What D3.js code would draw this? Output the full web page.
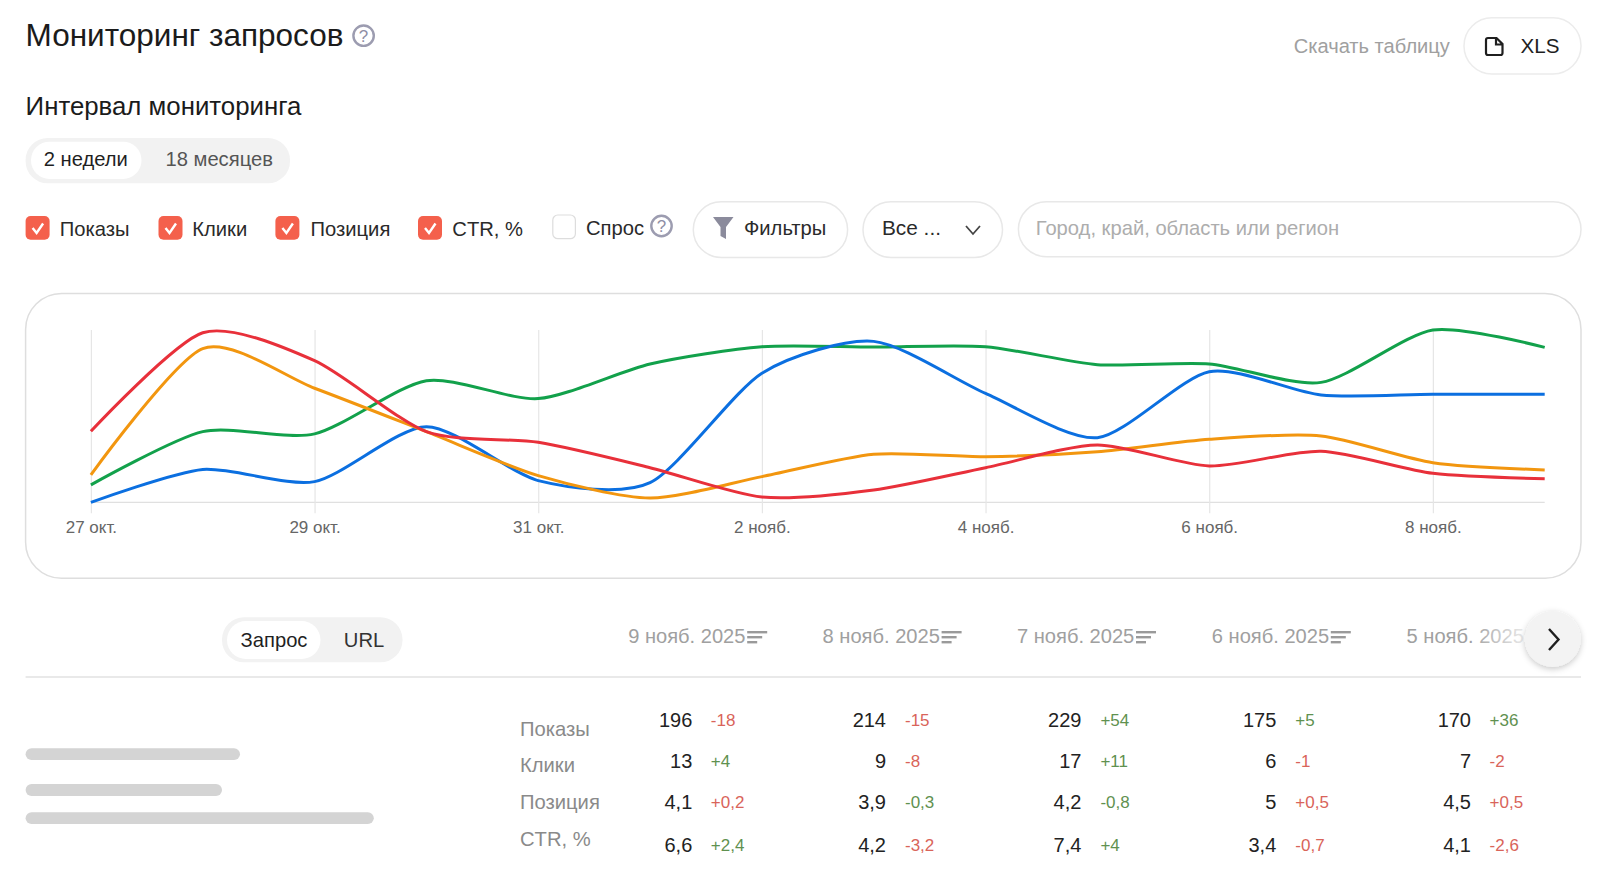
<!DOCTYPE html>
<html lang="ru"><head><meta charset="utf-8">
<script src="https://cdn.jsdelivr.net/npm/d3@7"></script>
<style>html,body{margin:0;background:#fff}svg{display:block}text{font-family:"Liberation Sans",Arial,sans-serif}</style>
</head><body><svg id="c" width="1608" height="882"></svg>
<script>
// ---- data ----
const days = ['27 окт.','28 окт.','29 окт.','30 окт.','31 окт.','1 нояб.','2 нояб.','3 нояб.','4 нояб.','5 нояб.','6 нояб.','7 нояб.','8 нояб.','9 нояб.'];
const tickDays = ['27 окт.','29 окт.','31 окт.','2 нояб.','4 нояб.','6 нояб.','8 нояб.'];
const red    = [41.2,98.4,82.2,41.0,34.8,20.1,3.1,7.2,20.1,33.3,21.1,29.6,16.8,13.7];
const orange = [15.9,89.2,66.2,41.0,15.5,2.5,14.9,27.9,26.5,29.4,36.6,38.5,23.0,18.8];
const green  = [10.1,41.0,39.7,70.6,60.2,80.3,90.3,90.1,90.3,79.9,80.3,69.6,100.0,89.9];
const blue   = [0,19.1,12.0,43.9,12.6,11.4,74.9,93.4,63.2,37.5,75.8,62.3,62.7,62.7];
const tableDates = ['9 нояб. 2025','8 нояб. 2025','7 нояб. 2025','6 нояб. 2025','5 нояб. 2025'];
const rowLabels = ['Показы','Клики','Позиция','CTR, %'];
const rowValues = [
  ['196','214','229','175','170'],
  ['13','9','17','6','7'],
  ['4,1','3,9','4,2','5','4,5'],
  ['6,6','4,2','7,4','3,4','4,1']];
const rowDeltas = [
  ['-18','-15','+54','+5','+36'],
  ['+4','-8','+11','-1','-2'],
  ['+0,2','-0,3','-0,8','+0,5','+0,5'],
  ['+2,4','-3,2','+4','-0,7','-2,6']];
const rowDeltaGood = [
  [0,0,1,1,1],
  [1,0,1,0,0],
  [0,1,1,0,0],
  [1,0,1,0,0]];
const checks = [
  {label:'Показы',box:25.6,tx:59.8,on:true},
  {label:'Клики',box:158.5,tx:192.3,on:true},
  {label:'Позиция',box:275.4,tx:310.5,on:true},
  {label:'CTR, %',box:418,tx:452.3,on:true},
  {label:'Спрос',box:552.8,tx:586,on:false}];

// ---- helpers ----
const svg = d3.select('#c');
function T(s,x,y,size,fill,anchor){return svg.append('text').text(s).attr('x',x).attr('y',y).attr('font-size',size).attr('fill',fill).attr('text-anchor',anchor||'start');}
function R(x0,y0,x1,y1,r,fill,stroke,sw){return svg.append('rect').attr('x',x0).attr('y',y0).attr('width',x1-x0).attr('height',y1-y0).attr('rx',r).attr('fill',fill||'none').attr('stroke',stroke||'none').attr('stroke-width',sw||0);}
function help(cx,cy){
  svg.append('circle').attr('cx',cx).attr('cy',cy).attr('r',10.2).attr('fill','none').attr('stroke','#9c9cb0').attr('stroke-width',2.4);
  T('?',cx,cy+6,17,'#8f8fa5','middle');
}
const defs = svg.append('defs');
const f = defs.append('filter').attr('id','sh').attr('x','-40%').attr('y','-40%').attr('width','180%').attr('height','180%');
f.append('feDropShadow').attr('dx',0).attr('dy',2).attr('stdDeviation',3).attr('flood-color','#000').attr('flood-opacity',.22);
const g = defs.append('linearGradient').attr('id','fade');
g.append('stop').attr('offset',0).attr('stop-color','#fff').attr('stop-opacity',0);
g.append('stop').attr('offset',1).attr('stop-color','#fff').attr('stop-opacity',1);

// ---- header ----
T('Мониторинг запросов',25.6,46,31.5,'#1b1b1b');
help(363.6,35.7);
T('Скачать таблицу',1293.7,52.7,20.1,'#a0a0a0');
R(1464,17.8,1581,74,28,'#fff','#ececec',1.5);
svg.append('path').attr('d','M1488 38h8.5l6 6v9a2 2 0 0 1-2 2h-12.5a2 2 0 0 1-2-2v-13a2 2 0 0 1 2-2zM1496 38v6.5h6.5').attr('fill','none').attr('stroke','#1f1f1f').attr('stroke-width',2.2);
T('XLS',1520.5,52.7,20.6,'#1f1f1f');

T('Интервал мониторинга',25.6,115,25.8,'#1b1b1b');
R(25.6,138,290,183.3,22,'#f2f2f2');
R(31,141.7,141.5,179,18.5,'#fff');
T('2 недели',85.8,166,20.2,'#1f1f1f','middle');
T('18 месяцев',219.2,166,20.2,'#555','middle');

// ---- checkboxes ----
checks.forEach(d=>{
  const by = d.on?216:215;
  if(d.on){
    R(d.box,by,d.box+24,by+23.7,5,'#f4604c');
    svg.append('path').attr('d',`M${d.box+7} ${by+12}l4 5l6.5-9.5`).attr('fill','none').attr('stroke','#fff').attr('stroke-width',2.4);
  } else R(d.box,by,d.box+22.6,by+23.7,5,'#fff','#ddd',1.2);
  T(d.label,d.tx,d.on?236:235,20.2,'#2a2a2a');
});
help(661.5,226);
R(693.3,201.8,847.6,257.5,28,'#fff','#e8e8e8',1.5);
svg.append('path').attr('d','M713 217h20.5l-7.5 10v12l-5.5-3v-9z').attr('fill','#8b8b9c');
T('Фильтры',744,235,20.2,'#2a2a2a');
R(863,201.8,1002.5,257.5,28,'#fff','#e8e8e8',1.5);
T('Все ...',882,235,20.8,'#2a2a2a');
svg.append('path').attr('d','M966 226l7 8l7-8').attr('fill','none').attr('stroke','#444').attr('stroke-width',1.8);
R(1018.4,201.8,1581,256.7,28,'#fff','#e8e8e8',1.5);
T('Город, край, область или регион',1035.8,235,20.2,'#adadad');

// ---- chart ----
R(25.6,293.5,1581,578.3,36,'#fff','#dedede',1.5);
const x = d3.scalePoint().domain(days).range([90.9,1544.7]);
const y = d3.scaleLinear().domain([0,100]).range([502.3,330]);
const axis = svg.append('g').attr('transform','translate(0,502.3)')
  .call(d3.axisBottom(x).tickValues(tickDays).tickSize(0).tickPadding(0));
axis.select('.domain').attr('stroke','#e0e0e0').attr('stroke-width',1.2).attr('d','M90.9,0H1544.7');
axis.selectAll('.tick line').attr('stroke','#e6e6e6').attr('stroke-width',1.2).attr('y1',-172.3).attr('y2',11);
axis.selectAll('.tick text').attr('y',31).attr('dy',0).attr('font-size',17).attr('fill','#666').attr('font-family','"Liberation Sans",Arial,sans-serif');
const line = d3.line().x((d,i)=>x(days[i])).y(d=>y(d)).curve(d3.curveCardinal.tension(0.25));
[[green,'#12a14b'],[blue,'#0b6fe0'],[orange,'#f2960f'],[red,'#e8303a']].forEach(([s,c])=>{
  svg.append('path').datum(s).attr('d',line).attr('fill','none').attr('stroke',c).attr('stroke-width',3).attr('stroke-linejoin','round');
});

// ---- table ----
R(222,617.3,402.5,662.3,22,'#f2f2f2');
R(227,621,320.5,659,19,'#fff');
T('Запрос',274,646.7,20.2,'#1f1f1f','middle');
T('URL',364,646.7,20.2,'#333','middle');
svg.append('line').attr('x1',25.6).attr('x2',1581).attr('y1',677).attr('y2',677).attr('stroke','#e2e2e2').attr('stroke-width',1.6);

const headX = [628.2,822.6,1017,1211.8,1406.6];
const valX = [692.3,886,1081.4,1276.3,1471];
const deltaX = [710.8,905,1100.4,1295.3,1489.6];
const labelBase = [735.7,772.3,809,846.3];
const valBase = [726.7,767.7,809.3,852];
tableDates.forEach((d,i)=>{
  T(d,headX[i],643,20.1,'#a0a0a0');
  const sx = headX[i]+119;
  [[20,0],[15,5],[10,10]].forEach(([w,dy])=>R(sx,631+dy,sx+w,633.4+dy,0,'#9a9a9a'));
});
svg.append('rect').attr('x',1470).attr('y',620).attr('width',70).attr('height',40).attr('fill','url(#fade)');
svg.append('circle').attr('cx',1552.7).attr('cy',639).attr('r',28).attr('fill','#f3f3f3').attr('filter','url(#sh)');
svg.append('path').attr('d','M1549 629l9.5 10.5l-9.5 10.5').attr('fill','none').attr('stroke','#1f1f1f').attr('stroke-width',2.4);

rowLabels.forEach((l,r)=>{
  T(l,520,labelBase[r],20.2,'#8a8a8a');
  rowValues[r].forEach((v,c)=>{
    T(v,valX[c],valBase[r],20,'#222','end');
    T(rowDeltas[r][c],deltaX[c],valBase[r]-1,17,rowDeltaGood[r][c]?'#5f9150':'#d9645a');
  });
});
R(25.6,748.3,240,760,6,'#d4d4d4');
R(25.6,784,222,796,6,'#d4d4d4');
R(25.6,812.3,373.8,824,6,'#d4d4d4');
</script></body></html>
